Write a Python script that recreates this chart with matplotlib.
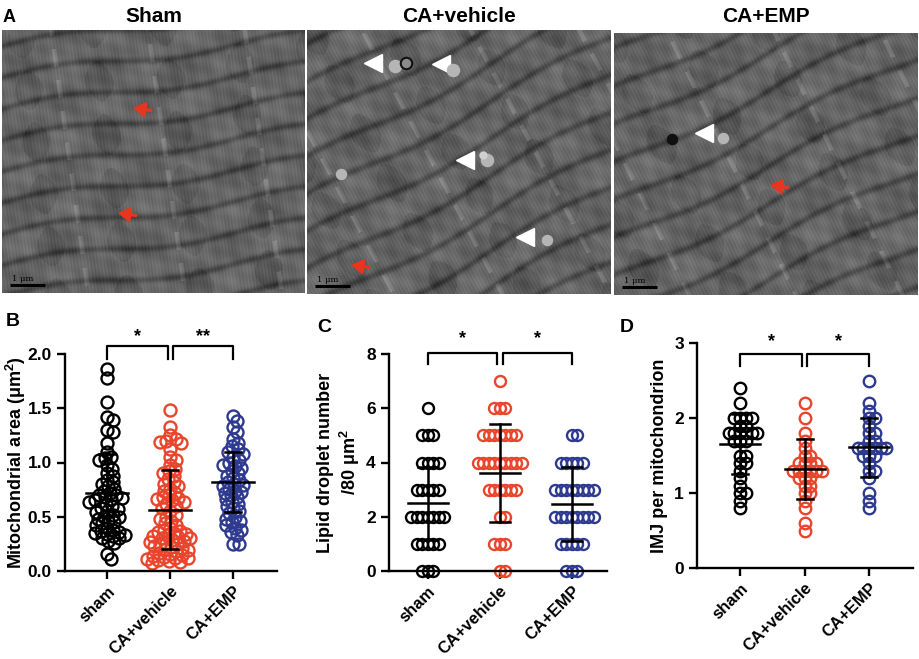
import matplotlib
matplotlib.use('Agg')
import matplotlib.pyplot as plt
import numpy as np

plt.rcParams['font.family'] = ['Liberation Sans', 'DejaVu Sans']
plt.rcParams['font.weight'] = 'bold'
plt.rcParams['mathtext.default'] = 'regular'

W, H = 920, 659

groups = ['sham', 'CA+vehicle', 'CA+EMP']
colours = ['#000000', '#E8452C', '#2E3A8F']

# B: mitochondrial area (um^2)
area_sham = [1.86, 1.78, 1.56, 1.42, 1.39, 1.30, 1.28, 1.18, 1.10, 1.05, 1.04, 1.02,
             0.98, 0.94, 0.90, 0.88, 0.84, 0.82, 0.80, 0.78, 0.76, 0.74, 0.72, 0.70,
             0.70, 0.68, 0.67, 0.66, 0.65, 0.64, 0.62, 0.60, 0.58, 0.57, 0.55, 0.54,
             0.52, 0.50, 0.50, 0.48, 0.46, 0.45, 0.44, 0.42, 0.40, 0.38, 0.37, 0.36,
             0.35, 0.34, 0.33, 0.32, 0.30, 0.30, 0.28, 0.26, 0.16, 0.11]
area_vehicle = [1.48, 1.33, 1.25, 1.22, 1.20, 1.19, 1.18, 1.12, 1.05, 1.02, 0.98, 0.94,
                0.92, 0.90, 0.88, 0.85, 0.82, 0.80, 0.78, 0.76, 0.74, 0.72, 0.70, 0.68,
                0.67, 0.66, 0.65, 0.64, 0.62, 0.60, 0.58, 0.55, 0.52, 0.50, 0.48, 0.46,
                0.44, 0.42, 0.40, 0.38, 0.37, 0.36, 0.35, 0.34, 0.33, 0.32, 0.31, 0.30,
                0.30, 0.29, 0.28, 0.27, 0.26, 0.25, 0.24, 0.23, 0.22, 0.21, 0.20, 0.19,
                0.18, 0.17, 0.16, 0.15, 0.14, 0.13, 0.12, 0.12, 0.11, 0.10, 0.09, 0.08, 0.07]
area_emp = [1.43, 1.38, 1.33, 1.28, 1.22, 1.18, 1.15, 1.12, 1.10, 1.08, 1.05, 1.02,
            1.00, 0.98, 0.97, 0.95, 0.92, 0.90, 0.88, 0.86, 0.84, 0.82, 0.80, 0.79,
            0.78, 0.76, 0.74, 0.73, 0.72, 0.70, 0.68, 0.66, 0.64, 0.62, 0.60, 0.58,
            0.55, 0.53, 0.50, 0.48, 0.46, 0.45, 0.42, 0.40, 0.38, 0.36, 0.33, 0.25, 0.25]
area_mean = [0.72, 0.56, 0.82]
area_sd_lo = [0.36, 0.20, 0.54]
area_sd_hi = [1.08, 0.93, 1.10]

# C: lipid droplet number / 80 um^2
lipid_sham = [6, 5, 5, 5, 4, 4, 4, 4, 3, 3, 3, 3, 3, 2, 2, 2, 2, 2, 2, 2, 1, 1, 1, 1, 1, 0, 0, 0]
lipid_vehicle = [7, 6, 6, 6, 5, 5, 5, 5, 5, 5, 5, 4, 4, 4, 4, 4, 4, 4, 4, 4,
                 3, 3, 3, 3, 3, 3, 2, 2, 1, 1, 1, 0, 0]
lipid_emp = [5, 5, 4, 4, 4, 4, 4, 3, 3, 3, 3, 3, 3, 3, 3, 2, 2, 2, 2, 2, 2, 2, 2,
             1, 1, 1, 1, 1, 0, 0, 0]
lipid_mean = [2.50, 3.63, 2.47]
lipid_sd_lo = [1.15, 1.80, 1.10]
lipid_sd_hi = [3.85, 5.43, 3.84]

# D: IMJ per mitochondrion
imj_sham = [2.4, 2.2, 2.0, 2.0, 2.0, 2.0, 1.9, 1.9, 1.8, 1.8, 1.8, 1.8, 1.8, 1.8,
            1.7, 1.7, 1.7, 1.5, 1.5, 1.4, 1.4, 1.3, 1.2, 1.1, 1.0, 1.0, 0.9, 0.8]
imj_vehicle = [2.2, 2.0, 1.8, 1.7, 1.6, 1.5, 1.5, 1.4, 1.4, 1.4, 1.4, 1.3, 1.3, 1.3,
               1.3, 1.3, 1.3, 1.2, 1.2, 1.2, 1.1, 1.1, 1.0, 1.0, 0.9, 0.8, 0.6, 0.5]
imj_emp = [2.5, 2.2, 2.1, 2.0, 2.0, 1.9, 1.8, 1.8, 1.7, 1.7, 1.6, 1.6, 1.6, 1.6,
           1.6, 1.6, 1.5, 1.5, 1.5, 1.4, 1.3, 1.3, 1.2, 1.0, 0.9, 0.8]
imj_mean = [1.65, 1.32, 1.61]
imj_sd_lo = [1.25, 0.92, 1.21]
imj_sd_hi = [2.05, 1.72, 2.00]

fig = plt.figure(figsize=(W / 100, H / 100), dpi=100)


def px_axes(x0, y0, x1, y1):
    return fig.add_axes([x0 / W, 1 - y1 / H, (x1 - x0) / W, (y1 - y0) / H])


# ---------- A: micrograph panels (drawn texture, not data) ----------
def em_texture(w, h, angle, period, phase):
    yy, xx = np.mgrid[0:h, 0:w].astype(float)
    a = np.deg2rad(angle)
    u = xx * np.sin(a) + yy * np.cos(a) + 5 * np.sin(xx / 37.0 + phase)
    v = xx * np.cos(a) - yy * np.sin(a)
    d = (u % period) - period / 2
    img = 0.40 + 0.04 * np.sin(2 * np.pi * xx / 83 + phase) * np.cos(2 * np.pi * yy / 71 + 2 * phase)
    img += 0.03 * np.sin(2 * np.pi * (xx + yy) / 47 + phase) * np.sin(2 * np.pi * (xx - yy) / 29)
    img -= 0.13 * np.exp(-d ** 2 / (2 * 2.4 ** 2))
    img += 0.02 * np.sin(2 * np.pi * v / 3.3)
    # darker mitochondria columns
    col = np.sin(2 * np.pi * v / 71 + phase) + 0.4 * np.sin(2 * np.pi * u / 53)
    img -= 0.04 * (col > 0.7)
    # pale gaps between myofibrils
    img += 0.10 * np.exp(-((v % 96) - 48) ** 2 / (2 * 1.6 ** 2)) * (np.sin(u / 5.0) > -0.2)
    return np.clip(img, 0, 1)


panels = [
    ('Sham', (2, 30, 305, 293), 8, 31, 0.0),
    ('CA+vehicle', (307, 30, 611, 294), 28, 33, 1.3),
    ('CA+EMP', (614, 33, 918, 295), 26, 34, 2.1),
]
img_axes = []
for title, (x0, y0, x1, y1), ang, per, ph in panels:
    ax = px_axes(x0, y0, x1, y1)
    w, h = x1 - x0, y1 - y0
    ax.imshow(em_texture(w, h, ang, per, ph), cmap='gray', vmin=0, vmax=1,
              extent=[0, w, h, 0], aspect='auto', interpolation='bilinear')
    ax.set_xlim(0, w)
    ax.set_ylim(h, 0)
    ax.set_xticks([])
    ax.set_yticks([])
    for s in ax.spines.values():
        s.set_visible(False)
    ax.plot([8, 43], [h - 8, h - 8], color='black', lw=2.2, solid_capstyle='butt')
    ax.text(10, h - 10, '1 μm', fontsize=6, color='black', fontweight='normal',
            family='DejaVu Serif', va='bottom')
    fig.text(((x0 + x1) / 2) / W, 1 - 17 / H, title, ha='center', va='center',
             fontsize=15, fontweight='bold')
    img_axes.append(ax)

fig.text(3 / W, 1 - 17 / H, 'A', ha='left', va='center', fontsize=13, fontweight='bold')


def red_arrow(ax, x, y):
    ax.annotate('', xy=(x, y), xytext=(x + 18, y + 2.5),
                arrowprops=dict(arrowstyle='-|>,head_length=0.55,head_width=0.35',
                                color='#E8351E', lw=2.2, shrinkA=0, shrinkB=0,
                                mutation_scale=12))


def tri(ax, x, y):
    ax.plot(x, y, marker='<', markersize=13, color='white', mec='white')


def droplet(ax, x, y, c='#B5B5B5', r=5.5, ec=None):
    ax.plot(x, y, marker='o', markersize=r * 1.5, color=c,
            mec=ec if ec else c, mew=1.5)


red_arrow(img_axes[0], 131, 78)
red_arrow(img_axes[0], 116, 183)
tri(img_axes[1], 66, 33)
droplet(img_axes[1], 88, 36)
droplet(img_axes[1], 99, 33, c='#8A8A8A', ec='#111111')
tri(img_axes[1], 134, 34)
droplet(img_axes[1], 146, 40)
tri(img_axes[1], 158, 130)
droplet(img_axes[1], 180, 130)
droplet(img_axes[1], 176, 125, c='#D0D0D0', r=3)
tri(img_axes[1], 218, 207)
droplet(img_axes[1], 240, 210, r=4.5)
droplet(img_axes[1], 34, 144, r=4.5)
red_arrow(img_axes[1], 44, 235)
tri(img_axes[2], 90, 100)
droplet(img_axes[2], 109, 105, r=4.5)
droplet(img_axes[2], 58, 106, c='#101010', r=4.5)
red_arrow(img_axes[2], 156, 152)


# ---------- B, C, D: scatter dot plots ----------
def swarm_x(ax, xc, vals, diam_px, min_frac):
    # spread points sideways so they do not sit on top of each other
    to_px = ax.transData
    placed = []
    xs = np.zeros(len(vals))
    order = np.argsort(vals)[::-1]
    step = diam_px * 0.1
    for i in order:
        _, py = to_px.transform((xc, vals[i]))
        cx, _ = to_px.transform((xc, 0))
        for k in range(0, 300):
            off = ((k + 1) // 2) * step * (1 if k % 2 else -1)
            ok = True
            for (qx, qy) in placed:
                if (cx + off - qx) ** 2 + (py - qy) ** 2 < (diam_px * min_frac) ** 2:
                    ok = False
                    break
            if ok:
                break
        placed.append((cx + off, py))
        xs[i] = to_px.inverted().transform((cx + off, py))[0]
    return xs


def dot_panel(box, xlim, ylim, yticks, yfmt, data, means, lo, hi, ylabel, label_x,
              diam, min_frac, mean_half, cap_half, brackets, label, label_xy):
    ax = px_axes(*box)
    ax.set_xlim(*xlim)
    ax.set_ylim(*ylim)
    ppu = (box[2] - box[0]) / (xlim[1] - xlim[0])
    for i, vals in enumerate(data):
        vals = np.array(vals, dtype=float)
        xs = swarm_x(ax, i, vals, diam, min_frac)
        ax.plot(xs, vals, linestyle='none', marker='o', markersize=diam * 0.72,
                mfc='none', mec=colours[i], mew=1.7, clip_on=False, zorder=2)
        mh = mean_half / ppu
        ch = cap_half / ppu
        ax.plot([i - mh, i + mh], [means[i]] * 2, color='black', lw=1.8, zorder=3)
        ax.plot([i, i], [lo[i], hi[i]], color='black', lw=1.8, zorder=3)
        ax.plot([i - ch, i + ch], [lo[i]] * 2, color='black', lw=1.8, zorder=3)
        ax.plot([i - ch, i + ch], [hi[i]] * 2, color='black', lw=1.8, zorder=3)
    for (a, b, ytop, yleg, star, ystar) in brackets:
        ax.plot([a, a, b, b], [yleg, ytop, ytop, yleg], color='black', lw=1.6,
                clip_on=False)
        ax.text((a + b) / 2, ystar, star, ha='center', va='center', fontsize=13,
                fontweight='bold')
    ax.spines['top'].set_visible(False)
    ax.spines['right'].set_visible(False)
    ax.spines['left'].set_linewidth(1.7)
    ax.spines['bottom'].set_linewidth(1.7)
    ax.set_yticks(yticks)
    ax.set_yticklabels([yfmt.format(t) for t in yticks], fontsize=12.5, fontweight='bold')
    ax.set_xticks(range(3))
    ax.set_xticklabels(groups, rotation=45, ha='right', rotation_mode='anchor',
                       fontsize=12, fontweight='bold')
    ax.tick_params(axis='both', width=1.7, length=6)
    ax.tick_params(axis='x', pad=3)
    ax.set_ylabel(ylabel, fontsize=13, fontweight='bold')
    ax.yaxis.set_label_coords((label_x - box[0]) / (box[2] - box[0]), 0.5)
    fig.text(label_xy[0] / W, 1 - label_xy[1] / H, label, fontsize=14,
             fontweight='bold', ha='left', va='center')
    return ax


dot_panel((65, 354, 277, 571), (-0.67, 2.7), (0, 2.0), [0, 0.5, 1.0, 1.5, 2.0], '{:.1f}',
          [area_sham, area_vehicle, area_emp], area_mean, area_sd_lo, area_sd_hi,
          'Mitochondrial area (μm$^{2}$)', 28, 12, 0.5, 21, 8,
          [(0, 0.96, 2.07, 1.95, '*', 2.16), (1.04, 2.0, 2.07, 1.95, '**', 2.16)],
          'B', (6, 322))

dot_panel((389, 354, 607, 571), (-0.54, 2.49), (0, 8), [0, 2, 4, 6, 8], '{:.0f}',
          [lipid_sham, lipid_vehicle, lipid_emp], lipid_mean, lipid_sd_lo, lipid_sd_hi,
          'Lipid droplet number\n/80 μm$^{2}$', 362, 11, 0.45, 20, 10,
          [(0, 0.96, 8.05, 7.62, '*', 8.55), (1.04, 2.0, 8.05, 7.62, '*', 8.55)],
          'C', (317, 327))

dot_panel((697, 343, 913, 568), (-0.67, 2.68), (0, 3), [0, 1, 2, 3], '{:.0f}',
          [imj_sham, imj_vehicle, imj_emp], imj_mean, imj_sd_lo, imj_sd_hi,
          'IMJ per mitochondrion', 668, 11.5, 0.5, 20, 8,
          [(0, 0.96, 2.85, 2.70, '*', 3.02), (1.04, 2.0, 2.85, 2.70, '*', 3.02)],
          'D', (620, 327))

fig.savefig('out.png', dpi=100)
